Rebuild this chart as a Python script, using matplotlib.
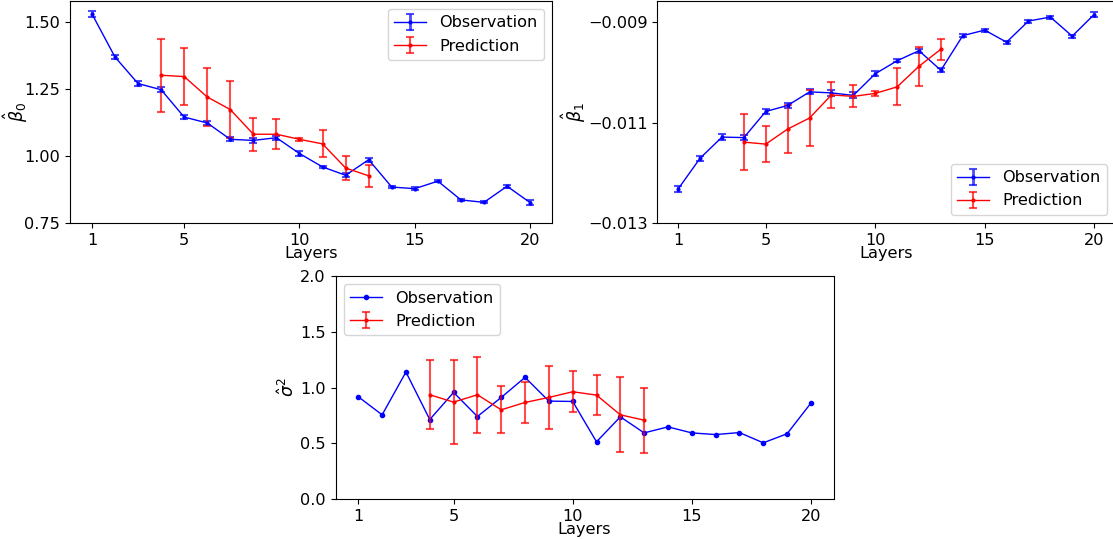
import matplotlib.pyplot as plt
import numpy as np

layers = np.arange(1, 21)
pred_layers = np.arange(4, 14)

# beta_0
b0_obs = [1.530, 1.369, 1.270, 1.247, 1.145, 1.123, 1.062, 1.058, 1.068, 1.009,
          0.959, 0.928, 0.986, 0.884, 0.878, 0.906, 0.836, 0.827, 0.887, 0.826]
b0_obs_err = [0.012, 0.008, 0.010, 0.010, 0.008, 0.007, 0.008, 0.009, 0.008, 0.008,
              0.005, 0.008, 0.007, 0.005, 0.005, 0.005, 0.005, 0.004, 0.006, 0.008]
b0_pred = [1.301, 1.296, 1.220, 1.173, 1.081, 1.081, 1.062, 1.045, 0.955, 0.926]
b0_pred_err = [0.137, 0.105, 0.107, 0.105, 0.062, 0.056, 0.005, 0.050, 0.045, 0.040]

# beta_1
b1_obs = [-0.01232, -0.01171, -0.01129, -0.01130, -0.01078, -0.01066, -0.01039,
          -0.01041, -0.01046, -0.01003, -0.00977, -0.00957, -0.00996, -0.00927,
          -0.00916, -0.00940, -0.00898, -0.00890, -0.00928, -0.00885]
b1_obs_err = [0.00006, 0.00005, 0.00006, 0.00005, 0.00005, 0.00005, 0.00005,
              0.00006, 0.00006, 0.00005, 0.00003, 0.00004, 0.00004, 0.00003,
              0.00003, 0.00003, 0.00003, 0.00003, 0.00003, 0.00005]
b1_pred = [-0.01139, -0.01143, -0.01113, -0.01091, -0.01045, -0.01048, -0.01042,
           -0.01029, -0.00988, -0.00954]
b1_pred_err = [0.00055, 0.00036, 0.00047, 0.00056, 0.00026, 0.00022, 0.00005,
               0.00037, 0.00039, 0.00021]

# sigma^2
s2_obs = [0.917, 0.755, 1.139, 0.713, 0.956, 0.740, 0.911, 1.091, 0.878, 0.875,
          0.513, 0.737, 0.593, 0.647, 0.593, 0.578, 0.596, 0.504, 0.585, 0.860]
s2_pred = [0.935, 0.869, 0.935, 0.800, 0.866, 0.911, 0.962, 0.932, 0.755, 0.707]
s2_pred_err = [0.310, 0.377, 0.342, 0.212, 0.183, 0.284, 0.184, 0.177, 0.337, 0.292]

plt.rcParams['font.size'] = 11.6

fig = plt.figure(figsize=(11.13, 5.39), dpi=100)
ax1 = fig.add_axes([0.0629, 0.5863, 0.4331, 0.4119])
ax2 = fig.add_axes([0.5907, 0.5863, 0.4110, 0.4119])
ax3 = fig.add_axes([0.3016, 0.0742, 0.4473, 0.4137])

blue_e = (0, 0, 1, 0.7)
red_e = (1, 0, 0, 0.7)

# beta_0 panel
ax1.errorbar(layers, b0_obs, yerr=b0_obs_err, color='blue', marker='.', ms=4,
             lw=1, ecolor=blue_e, elinewidth=2, capsize=3, capthick=1.5,
             label='Observation')
ax1.errorbar(pred_layers, b0_pred, yerr=b0_pred_err, color='red', marker='.',
             ms=4, lw=1, ecolor=red_e, elinewidth=1.5, capsize=3, capthick=1.5,
             label='Prediction')
ax1.set_ylim(0.75, 1.578)
ax1.set_yticks([0.75, 1.00, 1.25, 1.50])
ax1.set_xticks([1, 5, 10, 15, 20])
ax1.set_xlabel('Layers', labelpad=-1)
ax1.set_ylabel(r'$\hat{\beta}_0$', fontsize=12.5)
ax1.yaxis.set_label_coords(-0.083, 0.5)
ax1.legend(loc='upper right')

# beta_1 panel
ax2.errorbar(layers, b1_obs, yerr=b1_obs_err, color='blue', marker='.', ms=4,
             lw=1, ecolor=blue_e, elinewidth=2, capsize=3, capthick=1.5,
             label='Observation')
ax2.errorbar(pred_layers, b1_pred, yerr=b1_pred_err, color='red', marker='.',
             ms=4, lw=1, ecolor=red_e, elinewidth=1.5, capsize=3, capthick=1.5,
             label='Prediction')
ax2.set_ylim(-0.013, -0.00858)
ax2.set_yticks([-0.013, -0.011, -0.009])
ax2.set_yticklabels(['\u22120.013', '\u22120.011', '\u22120.009'])
ax2.set_xticks([1, 5, 10, 15, 20])
ax2.set_xlabel('Layers', labelpad=-1)
ax2.set_ylabel(r'$\hat{\beta}_1$', fontsize=12.5, labelpad=0)
ax2.legend(loc='lower right')

# sigma^2 panel
ax3.plot(layers, s2_obs, color='blue', marker='.', ms=6, lw=1,
         label='Observation')
ax3.errorbar(pred_layers, s2_pred, yerr=s2_pred_err, color='red', marker='.',
             ms=4, lw=1, ecolor=red_e, elinewidth=1.5, capsize=3, capthick=1.5,
             label='Prediction')
ax3.set_ylim(0, 2.0)
ax3.set_yticks([0.0, 0.5, 1.0, 1.5, 2.0])
ax3.set_xticks([1, 5, 10, 15, 20])
ax3.set_xlabel('Layers', labelpad=-1)
ax3.set_ylabel(r'$\hat{\sigma}^2$', fontsize=12.5, labelpad=2)
ax3.legend(loc='upper left')

fig.savefig('out.png', dpi=100)
